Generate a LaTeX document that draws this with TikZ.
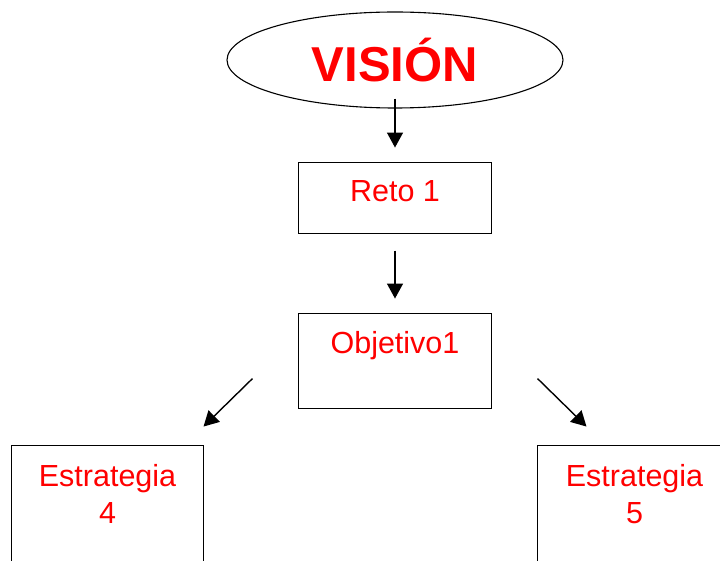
\documentclass[tikz,border=0pt]{standalone}
\usepackage{fontspec}
\setmainfont{Liberation Sans}
\usetikzlibrary{positioning,shapes.geometric,arrows.meta}
\tikzset{
    vision-oval/.style = {draw, ellipse, line width=1.1pt, minimum width=336pt, minimum height=96pt, inner sep=0pt, text=red, font=\fontsize{49}{55}\selectfont\bfseries},
    plain-box/.style = {draw, rectangle, line width=1.6pt, inner sep=0pt, outer sep=0pt, text=red, font=\fontsize{30.5}{37}\selectfont},
    flow-arrow/.style = {line width=1.4pt, -{Triangle[width=16pt,length=15pt]}},
}

\begin{document}
\begin{tikzpicture}[x=1pt,y=1pt]
\useasboundingbox (0,0) rectangle (720,560);
\node [vision-oval] (vision) at (395,500) {VISIÓN};
\node [plain-box, below=54pt of vision] (reto) {\begin{minipage}[t][71pt][t]{193pt}\centering
    \vspace*{18pt}Reto 1
\end{minipage}};
\node [plain-box, below=80pt of reto] (objetivo) {\begin{minipage}[t][95pt][t]{193pt}\centering
    \vspace*{18pt}Objetivo1
\end{minipage}};
\node [plain-box, below left=37pt and 95pt of objetivo] (estrategia4) {\begin{minipage}[t][130pt][t]{192pt}\centering
    \vspace*{19pt}Estrategia\\ 4
\end{minipage}};
\node [plain-box, below right=37pt and 46pt of objetivo] (estrategia5) {\begin{minipage}[t][130pt][t]{194pt}\centering
    \vspace*{19pt}Estrategia\\ 5
\end{minipage}};
% arrows stop short of the boxes
\draw [flow-arrow] ([yshift=10pt]vision.south) -- ([yshift=15pt]reto.north);
\draw [flow-arrow] ([yshift=-17pt]reto.south) -- ([yshift=15pt]objetivo.north);
\draw [flow-arrow] ([shift={(-46pt,30pt)}]objetivo.south west) -- ([yshift=19pt]estrategia4.north east);
\draw [flow-arrow] ([shift={(46pt,30pt)}]objetivo.south east) -- ([shift={(49pt,19pt)}]estrategia5.north west);
\end{tikzpicture}
\end{document}
